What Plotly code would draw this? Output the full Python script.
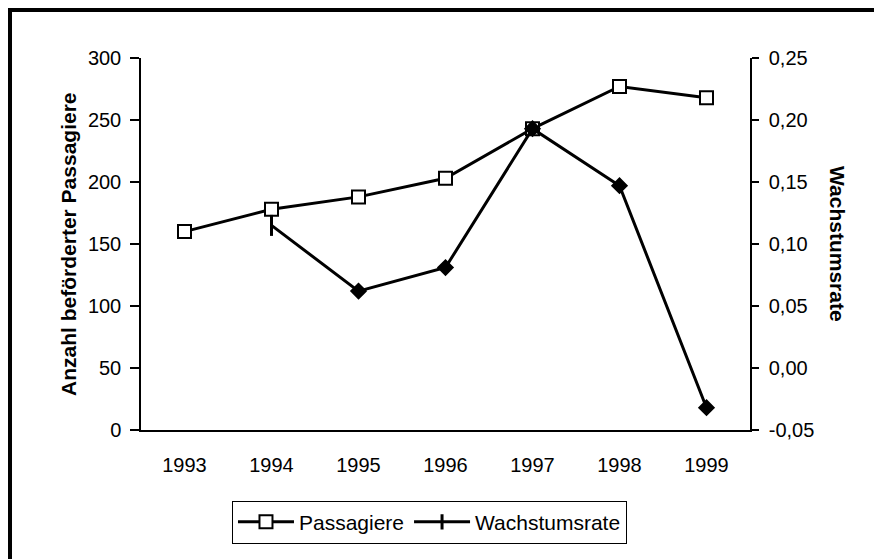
import plotly.graph_objects as go

years = ["1993", "1994", "1995", "1996", "1997", "1998", "1999"]
passagiere = [160, 178, 188, 203, 243, 277, 268]
wachstum_years = ["1994", "1995", "1996", "1997", "1998", "1999"]
wachstumsrate = [0.115, 0.062, 0.081, 0.193, 0.147, -0.032]

left_ticks = [0, 50, 100, 150, 200, 250, 300]
right_ticks = [-0.05, 0.0, 0.05, 0.10, 0.15, 0.20, 0.25]
right_labels = ["-0,05", "0,00", "0,05", "0,10", "0,15", "0,20", "0,25"]

FONT = "Liberation Sans, Arial, sans-serif"
xpos = {y: i for i, y in enumerate(years)}
bounds = [i - 0.5 for i in range(len(years) + 1)]

fig = go.Figure()
fig.add_trace(go.Scatter(
    x=[xpos[y] for y in years], y=passagiere, name="Passagiere",
    mode="lines+markers", line=dict(color="black", width=3),
    marker=dict(symbol="square", size=13, color="white", opacity=1,
                line=dict(color="black", width=2)),
    xaxis="x", yaxis="y"))
fig.add_trace(go.Scatter(
    x=[xpos[y] for y in wachstum_years], y=wachstumsrate, name="Wachstumsrate",
    mode="lines+markers", line=dict(color="black", width=3),
    marker=dict(symbol=["line-ns"] + ["diamond"] * 5, size=[15] + [10] * 5,
                color="#000000", opacity=1, line=dict(color="#000000", width=3)),
    xaxis="x", yaxis="y2"))

common = dict(showgrid=False, zeroline=False, tickcolor="black", tickwidth=1.5)

fig.update_layout(
    width=874, height=559,
    margin=dict(l=141, r=124, t=58, b=129),
    paper_bgcolor="white", plot_bgcolor="white",
    font=dict(family=FONT, size=20, color="black"),
    showlegend=True,
    legend=dict(orientation="h", x=0.4737, xanchor="center", y=-0.19, yanchor="top",
                bordercolor="black", borderwidth=1, font=dict(size=21),
                itemwidth=56, tracegroupgap=0),
    xaxis=dict(range=[-0.5, 6.5], tickmode="array", tickvals=list(range(len(years))),
               ticktext=years, ticks="", showline=True, linecolor="black", linewidth=1.5,
               ticklabelstandoff=16, showgrid=False, zeroline=False),
    xaxis2=dict(overlaying="x", anchor="y", range=[-0.5, 6.5], tickmode="array",
                tickvals=bounds, showticklabels=False, ticks="outside", ticklen=5,
                showline=False, **common),
    xaxis3=dict(overlaying="x", anchor="y", range=[-0.5, 6.5], tickmode="array",
                tickvals=bounds, showticklabels=False, ticks="inside", ticklen=8,
                showline=False, **common),
    yaxis=dict(range=[0, 300], tickmode="array", tickvals=left_ticks, ticks="outside",
               ticklen=9, showline=True, linecolor="black", linewidth=1.5,
               ticklabelstandoff=5, **common),
    yaxis3=dict(overlaying="y", side="left", range=[0, 300], tickmode="array",
                tickvals=left_ticks, ticks="inside", ticklen=5, showticklabels=False,
                showline=False, **common),
    yaxis2=dict(overlaying="y", side="right", range=[-0.05, 0.25], tickmode="array",
                tickvals=right_ticks, ticktext=right_labels, ticks="outside", ticklen=7,
                showline=True, linecolor="black", linewidth=1.5, ticklabelstandoff=6, **common),
    yaxis4=dict(overlaying="y", side="right", range=[-0.05, 0.25], tickmode="array",
                tickvals=right_ticks, ticks="inside", ticklen=7, showticklabels=False,
                showline=False, **common),
    annotations=[
        dict(text="<b>Anzahl beförderter Passagiere</b>", textangle=-90, xref="paper", yref="paper",
             x=-0.12, y=0.5, xanchor="center", yanchor="middle", showarrow=False,
             font=dict(size=21)),
        dict(text="<b>Wachstumsrate</b>", textangle=90, xref="paper", yref="paper",
             x=1.1445, y=0.5, xanchor="center", yanchor="middle", showarrow=False,
             font=dict(size=21)),
    ],
    shapes=[
        dict(type="line", xref="paper", yref="paper", x0=-0.2151, x1=-0.2151, y0=-0.4, y1=1.1344,
             line=dict(color="black", width=4)),
        dict(type="line", xref="paper", yref="paper", x0=-0.2184, x1=1.215, y0=1.129, y1=1.129,
             line=dict(color="black", width=4)),
    ],
)

fig.write_html("out.html", config={"displayModeBar": False},
               post_script="document.body.style.margin='0px';"
                           "document.body.style.overflow='hidden';"
                           "document.documentElement.style.overflow='hidden';")
